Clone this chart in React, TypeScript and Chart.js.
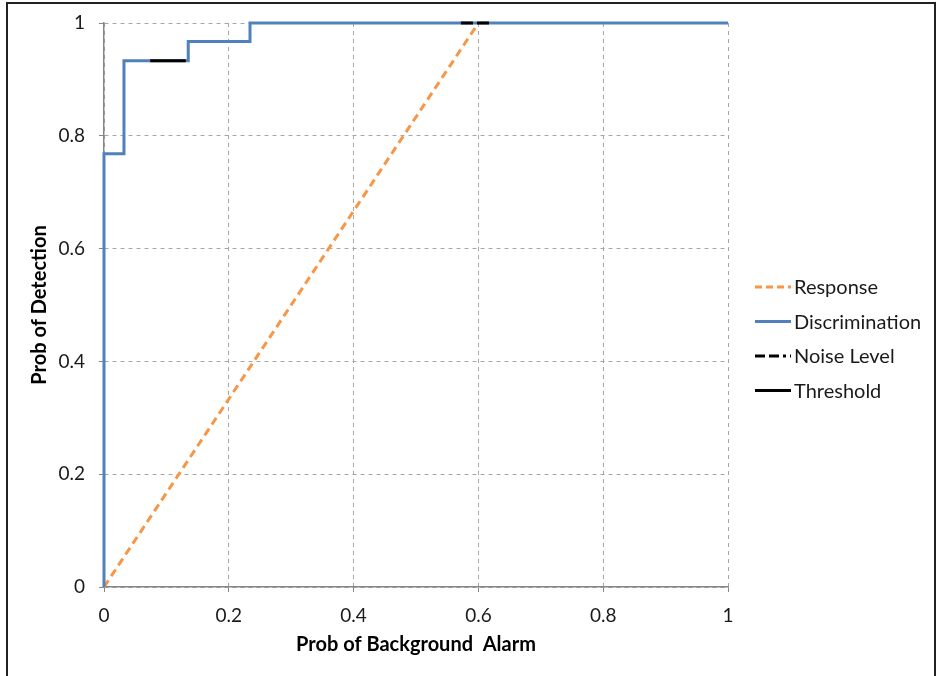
import React, { useEffect, useRef } from "react";
import { Chart, registerables } from "chart.js";

Chart.register(...registerables);

// Discrimination ROC curve vertices (stepped)
const discFpr = [0, 0, 0.032, 0.135, 0.234, 1];
const discTpr = [0, 0.768, 0.933, 0.967, 1, 1];
// Response (chance-like line)
const respFpr = [0, 0.6];
const respTpr = [0, 1];
// Noise level marker
const noiseFpr = [0.572, 0.617];
const noiseTpr = [1, 1];
// Threshold marker
const threshFpr = [0.074, 0.131];
const threshTpr = [0.933, 0.933];

const tickValues = [0, 0.2, 0.4, 0.6, 0.8, 1];
const seriesNames = ["Response", "Discrimination", "Noise Level", "Threshold"];

const FONT = "Lato, 'Noto Sans', sans-serif";
const ORANGE = "#F79646";
const BLUE = "#4F81BD";

const zip = (xs: number[], ys: number[]) => xs.map((x, i) => ({ x, y: ys[i] }));

export default function App() {
  const ref = useRef<HTMLCanvasElement | null>(null);

  useEffect(() => {
    if (!ref.current) return;

    const legendPlugin = {
      id: "customLegend",
      afterDraw(chart: any) {
        const ctx = chart.ctx as CanvasRenderingContext2D;
        const area = chart.chartArea;
        const x0 = area.right + 27;
        const lineLen = 36;
        const yStart = 287;
        const step = 34.5;
        ctx.save();
        chart.data.datasets.forEach((ds: any, i: number) => {
          const y = yStart + i * step;
          ctx.beginPath();
          ctx.strokeStyle = ds.borderColor;
          ctx.lineWidth = ds.borderWidth;
          ctx.setLineDash(ds.legendDash || []);
          ctx.lineCap = "butt";
          ctx.moveTo(x0, y);
          ctx.lineTo(x0 + lineLen, y);
          ctx.stroke();
          ctx.setLineDash([]);
          ctx.fillStyle = "#1a1a1a";
          ctx.font = `20px ${FONT}`;
          ctx.textBaseline = "middle";
          ctx.textAlign = "left";
          ctx.fillText(ds.label, x0 + lineLen + 3, y + 1);
        });
        ctx.restore();
      },
    };

    const chart = new Chart(ref.current, {
      type: "line",
      data: {
        datasets: [
          {
            label: seriesNames[0],
            data: zip(respFpr, respTpr),
            borderColor: ORANGE,
            borderWidth: 3,
            borderDash: [8, 5],
            legendDash: [7, 4],
            pointRadius: 0,
            fill: false,
            order: 4,
            clip: false,
          } as any,
          {
            label: seriesNames[1],
            data: zip(discFpr, discTpr),
            borderColor: BLUE,
            borderWidth: 3,
            stepped: true,
            pointRadius: 0,
            fill: false,
            order: 3,
            clip: false,
          } as any,
          {
            label: seriesNames[2],
            data: zip(noiseFpr, noiseTpr),
            borderColor: "#000000",
            borderWidth: 3,
            borderDash: [12, 4],
            legendDash: [10, 4, 10, 4, 3, 4],
            pointRadius: 0,
            fill: false,
            order: 2,
            clip: false,
          } as any,
          {
            label: seriesNames[3],
            data: zip(threshFpr, threshTpr),
            borderColor: "#000000",
            borderWidth: 3,
            pointRadius: 0,
            fill: false,
            order: 1,
            clip: false,
          } as any,
        ],
      },
      options: {
        animation: false,
        responsive: false,
        maintainAspectRatio: false,
        layout: { padding: { left: 0, top: 23, right: 209, bottom: 0 } },
        plugins: {
          legend: { display: false },
          tooltip: { enabled: false },
          title: { display: false },
        },
        scales: {
          x: {
            type: "linear",
            min: 0,
            max: 1,
            afterBuildTicks(scale: any) {
              scale.ticks = tickValues.map((v) => ({ value: v }));
            },
            afterFit(scale: any) {
              scale.height = 89;
              scale.paddingLeft = 0;
              scale.paddingRight = 0;
            },
            ticks: {
              font: { family: FONT, size: 19 },
              color: "#1a1a1a",
              padding: 12,
              maxRotation: 0,
              callback: (v: any) => String(v),
            },
            grid: {
              color: "#A6A6A6",
              lineWidth: 1,
              tickLength: 5,
              tickColor: "#868686",
              drawTicks: true,
            },
            border: { display: true, color: "#868686", width: 1.5, dash: [4, 4] },
            title: {
              display: true,
              text: "Prob of Background  Alarm",
              font: { family: FONT, size: 20, weight: "bold" },
              color: "#000000",
              padding: { top: 0, bottom: 19 },
            },
          },
          y: {
            type: "linear",
            min: 0,
            max: 1,
            afterBuildTicks(scale: any) {
              scale.ticks = tickValues.map((v) => ({ value: v }));
            },
            afterFit(scale: any) {
              scale.width = 104;
              scale.paddingTop = 0;
              scale.paddingBottom = 0;
            },
            ticks: {
              font: { family: FONT, size: 19 },
              color: "#1a1a1a",
              padding: 14,
              callback: (v: any) => String(v),
            },
            grid: {
              color: "#A6A6A6",
              lineWidth: 1,
              tickLength: 5,
              tickColor: "#868686",
            },
            border: { display: true, color: "#868686", width: 1.5, dash: [4, 4] },
            title: {
              display: true,
              text: "Prob of Detection",
              font: { family: FONT, size: 20, weight: "bold" },
              color: "#000000",
              padding: { top: 28, bottom: 0 },
            },
          },
        },
      },
      plugins: [
        {
          id: "whiteBg",
          beforeDraw(chart: any) {
            const ctx = chart.ctx as CanvasRenderingContext2D;
            ctx.save();
            ctx.fillStyle = "#ffffff";
            ctx.fillRect(0, 0, chart.width, chart.height);
            ctx.restore();
          },
        },
        legendPlugin,
      ],
    } as any);

    return () => chart.destroy();
  }, []);

  return (
    <div style={{ position: "fixed", left: 0, top: 0, width: 937, height: 676, background: "#fff" }}>
      <canvas ref={ref} width={937} height={676} style={{ position: "absolute", left: 0, top: 0, width: 937, height: 676 }} />
      <div
        style={{
          position: "absolute",
          left: 6,
          top: 2,
          width: 930,
          height: 680,
          border: "2px solid #222",
          borderBottom: "none",
          boxSizing: "border-box",
          pointerEvents: "none",
        }}
      />
    </div>
  );
}
